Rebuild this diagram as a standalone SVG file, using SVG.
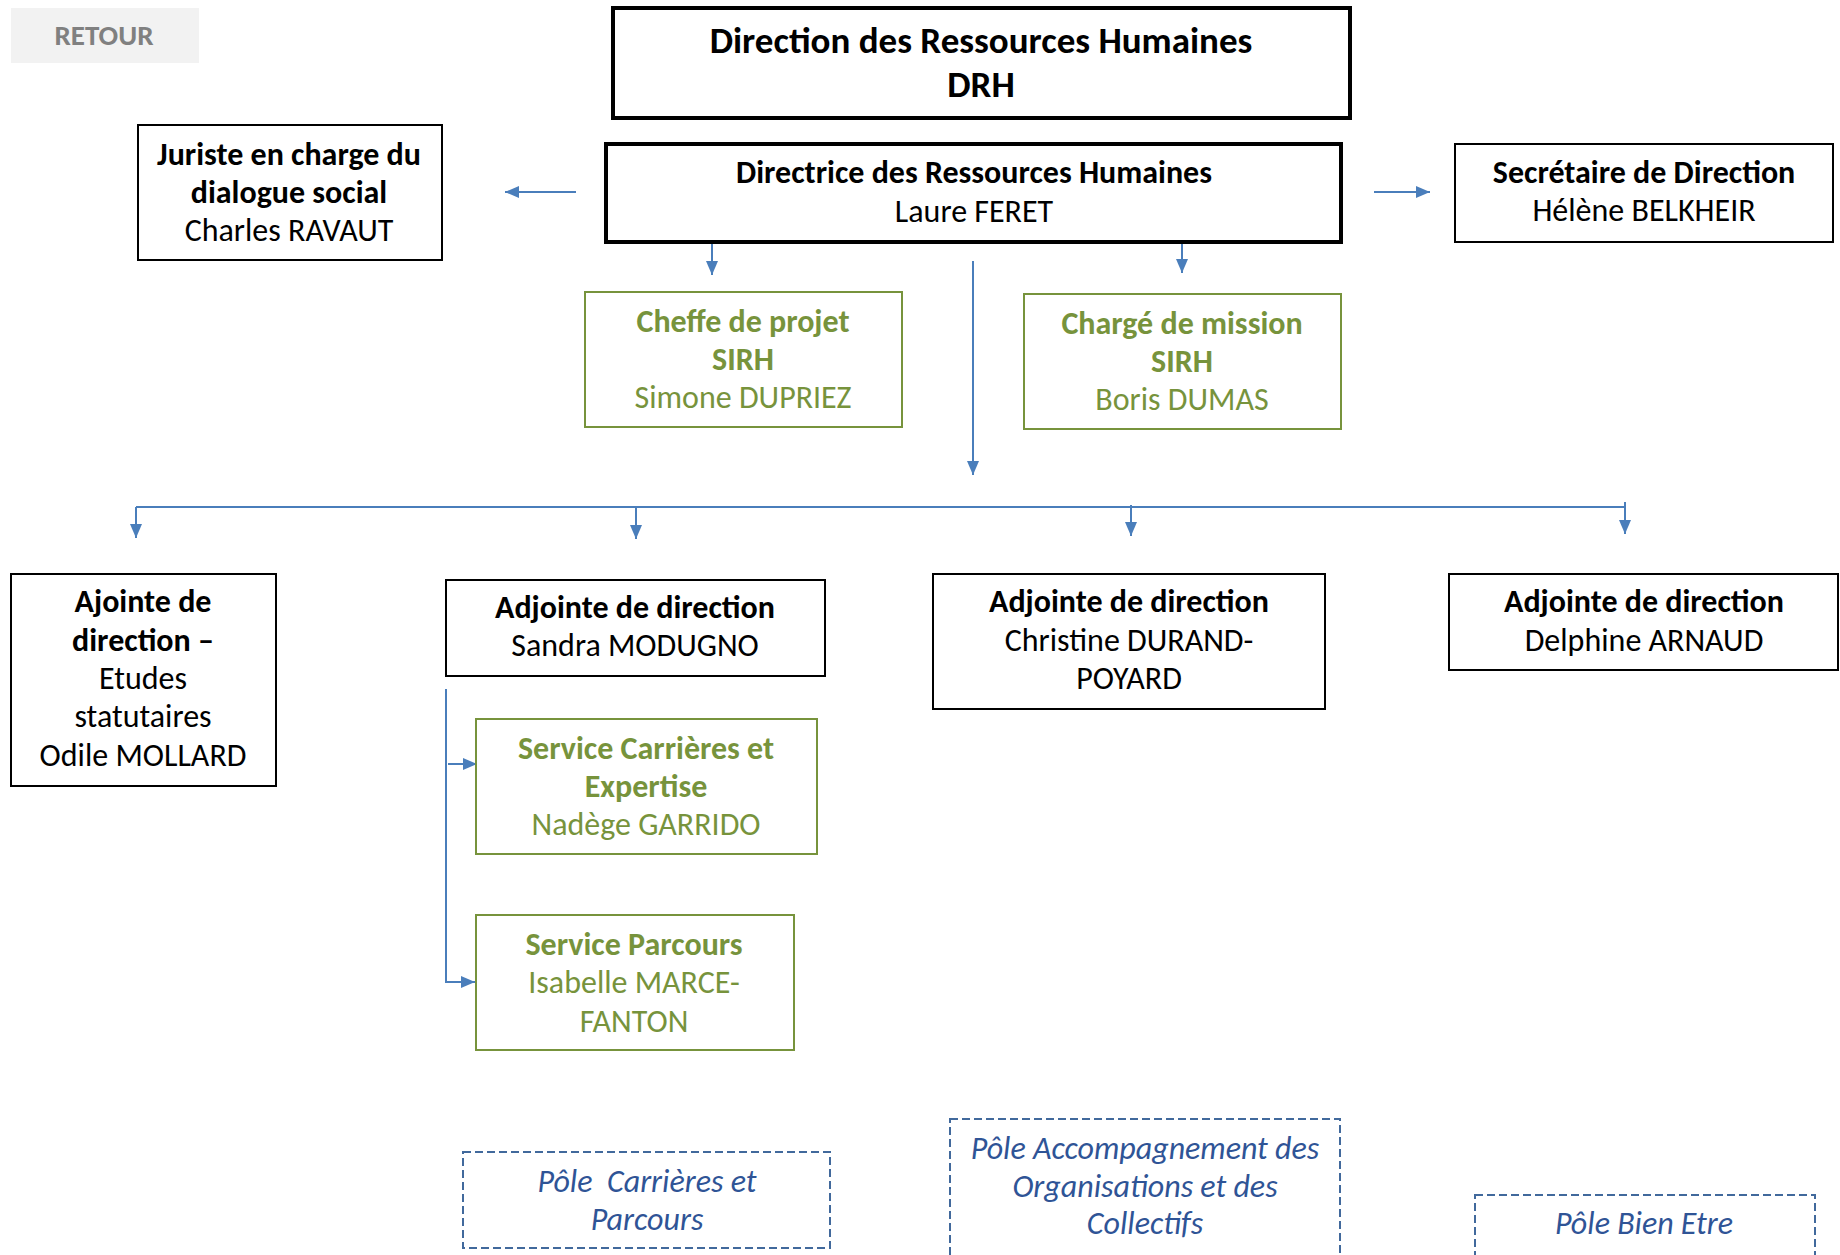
<svg xmlns="http://www.w3.org/2000/svg" width="1840" height="1255" viewBox="0 0 1840 1255">
<defs>
<marker id="ah" markerUnits="userSpaceOnUse" markerWidth="14" markerHeight="12" refX="14" refY="6" orient="auto">
<path d="M0,0 L14,6 L0,12 z" fill="#4a7ebb"/>
</marker>
<style>
text{font-family:Carlito,Lato,"Open Sans",sans-serif;text-anchor:middle;}
.b{font-weight:bold;}
.t{font-size:32px;fill:#000;}
.g{font-size:32px;fill:#77933c;}
.box{fill:#fff;stroke:#000;stroke-width:2;}
.thick{fill:#fff;stroke:#000;stroke-width:4;}
.gbox{fill:#fff;stroke:#77933c;stroke-width:2;}
.pole{fill:#fff;stroke:#41699c;stroke-width:2;stroke-dasharray:8 4;}
.p{font-size:32px;fill:#2f5496;font-style:italic;}
.c{fill:none;stroke:#4a7ebb;stroke-width:2;}
.ca{fill:none;stroke:#4a7ebb;stroke-width:2;marker-end:url(#ah);}
</style>
</defs>
<rect width="1840" height="1255" fill="#fff"/>

<g id="retour">
<rect x="11" y="8" width="188" height="55" fill="#f2f2f2"/>
<text x="104" y="45" class="b" style="font-size:29px;fill:#808080">RETOUR</text>
</g>

<g id="connectors">
<line class="ca" x1="576" y1="192" x2="505" y2="192"/>
<line class="ca" x1="1374" y1="192" x2="1430" y2="192"/>
<line class="ca" x1="712" y1="244" x2="712" y2="275"/>
<line class="ca" x1="1182" y1="242" x2="1182" y2="273"/>
<line class="ca" x1="973" y1="261" x2="973" y2="475"/>
<line class="c" x1="136" y1="507" x2="1625" y2="507"/>
<line class="ca" x1="136" y1="507" x2="136" y2="538"/>
<line class="ca" x1="636" y1="507" x2="636" y2="539"/>
<line class="ca" x1="1131" y1="505" x2="1131" y2="536"/>
<line class="ca" x1="1625" y1="502" x2="1625" y2="534"/>
<line class="c" x1="446" y1="689" x2="446" y2="982"/>
<line class="ca" x1="448" y1="764" x2="477" y2="764"/>
<line class="ca" x1="445" y1="982" x2="475" y2="982"/>
</g>

<g id="drh">
<rect class="thick" x="613" y="8" width="737" height="110"/>
<text x="981" y="53" class="b" style="font-size:37px">Direction des Ressources Humaines</text>
<text x="981" y="97" class="b" style="font-size:37px">DRH</text>
</g>

<g id="directrice">
<rect class="thick" x="606" y="144" width="735" height="98"/>
<text x="974" y="183" class="b t">Directrice des Ressources Humaines</text>
<text x="974" y="222" class="t">Laure FERET</text>
</g>

<g id="juriste">
<rect class="box" x="138" y="125" width="304" height="135"/>
<text x="289" y="165" class="b t">Juriste en charge du</text>
<text x="289" y="203" class="b t">dialogue social</text>
<text x="289" y="241" class="t">Charles RAVAUT</text>
</g>

<g id="secretaire">
<rect class="box" x="1455" y="144" width="378" height="98"/>
<text x="1644" y="183" class="b t">Secrétaire de Direction</text>
<text x="1644" y="221" class="t">Hélène BELKHEIR</text>
</g>

<g id="cheffe">
<rect class="gbox" x="585" y="292" width="317" height="135"/>
<text x="743" y="332" class="b g">Cheffe de projet</text>
<text x="743" y="370" class="b g">SIRH</text>
<text x="743" y="408" class="g">Simone DUPRIEZ</text>
</g>

<g id="charge">
<rect class="gbox" x="1024" y="294" width="317" height="135"/>
<text x="1182" y="334" class="b g">Chargé de mission</text>
<text x="1182" y="372" class="b g">SIRH</text>
<text x="1182" y="410" class="g">Boris DUMAS</text>
</g>

<g id="ajointe">
<rect class="box" x="11" y="574" width="265" height="212"/>
<text x="143" y="612" class="b t">Ajointe de</text>
<text x="143" y="651" class="b t">direction –</text>
<text x="143" y="689" class="t">Etudes</text>
<text x="143" y="727" class="t">statutaires</text>
<text x="143" y="766" class="t">Odile MOLLARD</text>
</g>

<g id="sandra">
<rect class="box" x="446" y="580" width="379" height="96"/>
<text x="635" y="618" class="b t">Adjointe de direction</text>
<text x="635" y="656" class="t">Sandra MODUGNO</text>
</g>

<g id="christine">
<rect class="box" x="933" y="574" width="392" height="135"/>
<text x="1129" y="612" class="b t">Adjointe de direction</text>
<text x="1129" y="651" class="t">Christine DURAND-</text>
<text x="1129" y="689" class="t">POYARD</text>
</g>

<g id="delphine">
<rect class="box" x="1449" y="574" width="389" height="96"/>
<text x="1644" y="612" class="b t">Adjointe de direction</text>
<text x="1644" y="651" class="t">Delphine ARNAUD</text>
</g>

<g id="service-carrieres">
<rect class="gbox" x="476" y="719" width="341" height="135"/>
<text x="646" y="759" class="b g">Service Carrières et</text>
<text x="646" y="797" class="b g">Expertise</text>
<text x="646" y="835" class="g">Nadège GARRIDO</text>
</g>

<g id="service-parcours">
<rect class="gbox" x="476" y="915" width="318" height="135"/>
<text x="634" y="955" class="b g">Service Parcours</text>
<text x="634" y="993" class="g">Isabelle MARCE-</text>
<text x="634" y="1032" class="g">FANTON</text>
</g>

<g id="pole-carrieres">
<rect class="pole" x="463" y="1152" width="367" height="96"/>
<text x="647" y="1192" class="p" xml:space="preserve">Pôle  Carrières et</text>
<text x="647" y="1230" class="p">Parcours</text>
</g>

<g id="pole-accompagnement">
<rect class="pole" x="950" y="1119" width="390" height="140"/>
<text x="1145" y="1159" class="p">Pôle Accompagnement des</text>
<text x="1145" y="1197" class="p">Organisations et des</text>
<text x="1145" y="1234" class="p">Collectifs</text>
</g>

<g id="pole-bien-etre">
<rect class="pole" x="1475" y="1195" width="340" height="70"/>
<text x="1644" y="1234" class="p">Pôle Bien Etre</text>
</g>
</svg>
